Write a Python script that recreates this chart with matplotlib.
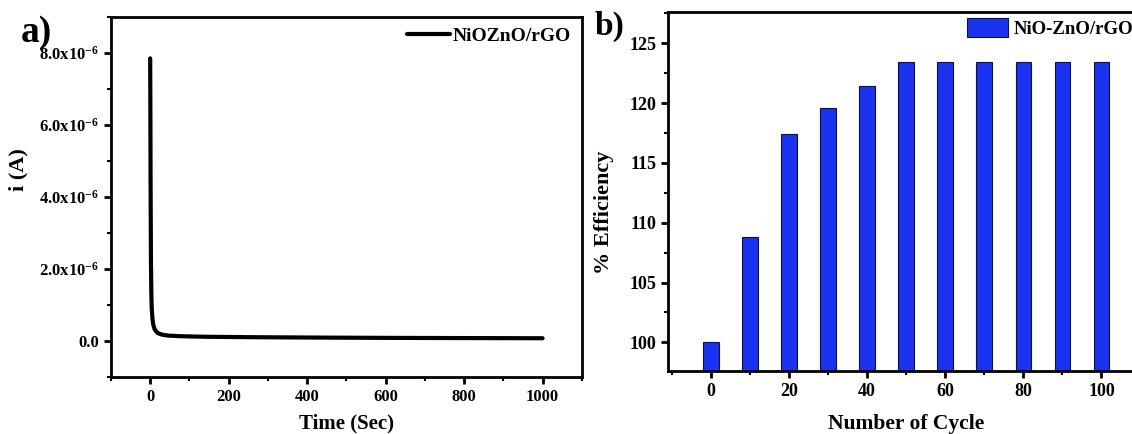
import matplotlib
matplotlib.use("Agg")
import matplotlib.pyplot as plt
import matplotlib.ticker as mticker

# ---------------------------------------------------------------------------
# Data
# ---------------------------------------------------------------------------

# (a) chronoamperometry decay
time_s = [0, 0.5, 1, 2, 3, 4, 6, 8, 11, 15, 20, 30, 45, 70, 100, 150,
          250, 400, 600, 800, 1000]
current_a = [7.85e-6, 6.5e-6, 4.5e-6, 2.2e-6, 1.3e-6, 0.9e-6, 0.6e-6,
             0.45e-6, 0.34e-6, 0.27e-6, 0.22e-6, 0.18e-6, 0.155e-6,
             0.14e-6, 0.13e-6, 0.12e-6, 0.11e-6, 0.10e-6, 0.09e-6,
             0.085e-6, 0.08e-6]

# (b) efficiency vs cycle number
cycles = [0, 10, 20, 30, 40, 50, 60, 70, 80, 90, 100]
efficiency = [100.0, 108.8, 117.4, 119.6, 121.4, 123.4, 123.4, 123.4,
              123.4, 123.4, 123.4]

BAR_BLUE = "#1a32f2"

plt.rcParams["font.family"] = "Liberation Serif"
plt.rcParams["font.weight"] = "bold"
plt.rcParams["axes.labelweight"] = "bold"
plt.rcParams["mathtext.fontset"] = "custom"
plt.rcParams["mathtext.rm"] = "Liberation Serif:bold"
plt.rcParams["mathtext.bf"] = "Liberation Serif:bold"
plt.rcParams["mathtext.default"] = "bf"


def style_axes(ax, labelsize):
    for side in ("top", "right", "left", "bottom"):
        ax.spines[side].set_linewidth(2)
    ax.tick_params(which="major", direction="out", length=5, width=2,
                   labelsize=labelsize, top=False, right=False)
    ax.tick_params(which="minor", direction="out", length=3, width=1.5,
                   top=False, right=False)


def sci_fmt(v, pos):
    if abs(v) < 1e-12:
        return "0.0"
    return f"{v / 1e-6:.1f}x10$^{{-6}}$"


fig = plt.figure(figsize=(11.32, 4.34), dpi=100)

# ---------------------------------------------------------------------------
# Panel a
# ---------------------------------------------------------------------------
ax1 = fig.add_axes([0.098, 0.131, 0.416, 0.830])
ax1.plot(time_s, current_a, color="black", linewidth=3,
         solid_capstyle="round", label="NiOZnO/rGO")
ax1.set_xlim(-100, 1100)
ax1.set_ylim(-1e-6, 9e-6)
ax1.xaxis.set_major_locator(mticker.MultipleLocator(200))
ax1.xaxis.set_minor_locator(mticker.MultipleLocator(100))
ax1.yaxis.set_major_locator(mticker.MultipleLocator(2e-6))
ax1.yaxis.set_minor_locator(mticker.MultipleLocator(1e-6))
ax1.yaxis.set_major_formatter(mticker.FuncFormatter(sci_fmt))
ax1.set_xlabel("Time (Sec)", fontsize=15, labelpad=6)
ax1.set_ylabel("i (A)", fontsize=16)
ax1.yaxis.set_label_coords(-0.176, 0.575)
style_axes(ax1, 12)
ax1.legend(loc="upper right", frameon=False, fontsize=14,
           handlelength=2.2, handletextpad=0.15, borderaxespad=0.15)
fig.text(0.018, 0.965, "a)", fontsize=27, fontweight="bold", va="top")

# ---------------------------------------------------------------------------
# Panel b
# ---------------------------------------------------------------------------
ax2 = fig.add_axes([0.590, 0.145, 0.421, 0.827])
ax2.bar(cycles, efficiency, width=4, color=BAR_BLUE, edgecolor="#111133",
        linewidth=0.8, label="NiO-ZnO/rGO")
ax2.set_xlim(-11, 111)
ax2.set_ylim(97.6, 127.6)
ax2.xaxis.set_major_locator(mticker.MultipleLocator(20))
ax2.xaxis.set_minor_locator(mticker.MultipleLocator(10))
ax2.yaxis.set_major_locator(mticker.MultipleLocator(5))
ax2.yaxis.set_minor_locator(mticker.MultipleLocator(2.5))
ax2.set_xlabel("Number of Cycle", fontsize=15.5, labelpad=10)
ax2.set_ylabel("% Efficiency", fontsize=16)
ax2.yaxis.set_label_coords(-0.113, 0.443)
style_axes(ax2, 13)
ax2.legend(loc="upper right", bbox_to_anchor=(1.002, 1.017),
           frameon=False, fontsize=13.5, handlelength=2.2,
           handleheight=1.15, handletextpad=0.3, borderaxespad=0.25)
fig.text(0.525, 0.975, "b)", fontsize=24, fontweight="bold", va="top")

fig.savefig("out.png", dpi=100)
